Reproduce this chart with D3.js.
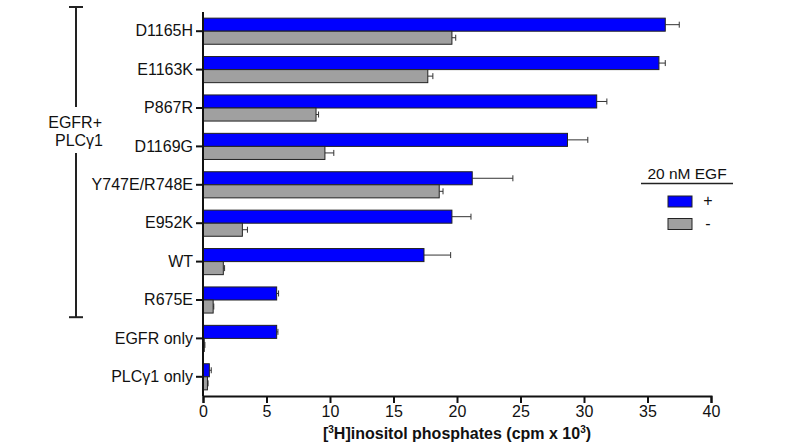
<!DOCTYPE html>
<html>
<head>
<meta charset="utf-8">
<script src="https://cdn.jsdelivr.net/npm/d3@7"></script>
<style>
  body { margin: 0; background: #fff; }
  svg text { font-family: "Liberation Sans", Arial, sans-serif; fill: #111; }
</style>
</head>
<body>
<svg id="chart" width="786" height="443"></svg>
<script>
// data
const categories = ['D1165H', 'E1163K', 'P867R', 'D1169G', 'Y747E/R748E', 'E952K', 'WT', 'R675E', 'EGFR only', 'PLC\u03b31 only'];
const plusEGF = [36.4, 35.9, 31.0, 28.7, 21.2, 19.6, 17.4, 5.8, 5.8, 0.5];
const plusErr = [1.1, 0.5, 0.8, 1.6, 3.2, 1.5, 2.1, 0.15, 0.1, 0.15];
const minusEGF = [19.6, 17.7, 8.9, 9.6, 18.6, 3.1, 1.6, 0.8, 0.1, 0.35];
const minusErr = [0.3, 0.4, 0.2, 0.7, 0.3, 0.4, 0.1, 0.05, 0.05, 0.05];
const xTicks = [0, 5, 10, 15, 20, 25, 30, 35, 40];
const bracketGroup = ['D1165H', 'R675E'];

const svg = d3.select('#chart');
const margin = { top: 12, left: 203, right: 75, bottom: 47 };
const width = 786, height = 443;
const fs = 16;

const x = d3.scaleLinear().domain([0, 40]).range([margin.left, width - margin.right]);
const y = d3.scaleBand().domain(categories).range([margin.top, height - margin.bottom]);
const barH = y.bandwidth() * 0.34;

const series = [
  { key: '+', vals: plusEGF, errs: plusErr, color: '#0000ff', off: y.bandwidth() / 2 - barH },
  { key: '-', vals: minusEGF, errs: minusErr, color: '#a0a0a0', off: y.bandwidth() / 2 }
];

// bars + error bars (upper side only)
series.forEach((s) => {
  const g = svg.append('g');
  categories.forEach((c, i) => {
    const y0 = y(c) + s.off;
    const xe = x(s.vals[i] + s.errs[i]);
    g.append('line')
      .attr('x1', x(s.vals[i])).attr('x2', xe)
      .attr('y1', y0 + barH / 2).attr('y2', y0 + barH / 2)
      .attr('stroke', '#333').attr('stroke-width', 1);
    g.append('line')
      .attr('x1', xe).attr('x2', xe)
      .attr('y1', y0 + barH / 2 - 3).attr('y2', y0 + barH / 2 + 3)
      .attr('stroke', '#333').attr('stroke-width', 1);
    g.append('rect')
      .attr('x', x(0))
      .attr('y', y0)
      .attr('width', Math.max(x(s.vals[i]) - x(0), 1))
      .attr('height', barH)
      .attr('fill', s.color)
      .attr('stroke', '#222')
      .attr('stroke-width', 1);
  });
});

// axes
const xAxis = svg.append('g')
  .attr('transform', `translate(0,${height - margin.bottom})`)
  .call(d3.axisBottom(x).tickValues(xTicks).tickSize(7).tickPadding(3));
xAxis.select('.domain').attr('stroke', '#111').attr('stroke-width', 2);
xAxis.selectAll('.tick line').attr('stroke', '#111').attr('stroke-width', 2);
xAxis.selectAll('text').attr('font-size', fs).style('font-family', '"Liberation Sans", Arial, sans-serif');

const yAxis = svg.append('g')
  .attr('transform', `translate(${margin.left},0)`)
  .call(d3.axisLeft(y).tickSize(7).tickPadding(3));
yAxis.select('.domain').attr('stroke', '#111').attr('stroke-width', 2)
  .attr('d', `M0,${margin.top}V${height - margin.bottom}`);
yAxis.selectAll('.tick line').attr('stroke', '#111').attr('stroke-width', 2);
yAxis.selectAll('text').attr('font-size', fs).style('font-family', '"Liberation Sans", Arial, sans-serif');

// x axis title
const title = svg.append('text')
  .attr('x', (x(0) + x(40)) / 2)
  .attr('y', 439)
  .attr('text-anchor', 'middle')
  .attr('font-size', fs)
  .attr('font-weight', 'bold');
title.append('tspan').text('[');
title.append('tspan').attr('dy', -6).attr('font-size', 10).text('3');
title.append('tspan').attr('dy', 6).text('H]inositol phosphates (cpm x 10');
title.append('tspan').attr('dy', -6).attr('font-size', 10).text('3');
title.append('tspan').attr('dy', 6).text(')');

// bracket for EGFR+PLCγ1 group
const bx = 76;
const bTop = y(bracketGroup[0]) - 5;
const bBot = y(bracketGroup[1]) + y.step() - 2;
const br = svg.append('g').attr('stroke', '#222').attr('stroke-width', 2);
br.append('line').attr('x1', bx).attr('x2', bx).attr('y1', bTop).attr('y2', 107);
br.append('line').attr('x1', bx).attr('x2', bx).attr('y1', 153).attr('y2', bBot);
br.append('line').attr('x1', bx - 7).attr('x2', bx + 7).attr('y1', bTop).attr('y2', bTop);
br.append('line').attr('x1', bx - 7).attr('x2', bx + 7).attr('y1', bBot).attr('y2', bBot);
svg.append('text').attr('x', 102).attr('y', 128).attr('text-anchor', 'end').attr('font-size', fs).text('EGFR+');
svg.append('text').attr('x', 103).attr('y', 146).attr('text-anchor', 'end').attr('font-size', fs).text('PLC\u03b31');

// legend
const lg = svg.append('g').attr('transform', 'translate(641,0)');
lg.append('text').attr('x', 46).attr('y', 179).attr('text-anchor', 'middle').attr('font-size', 15.5).text('20 nM EGF');
lg.append('line').attr('x1', 0).attr('x2', 92).attr('y1', 183.5).attr('y2', 183.5).attr('stroke', '#222').attr('stroke-width', 1.5);
series.forEach((s, i) => {
  const yy = 196 + i * 22.5;
  lg.append('rect').attr('x', 27).attr('y', yy).attr('width', 24).attr('height', 11)
    .attr('fill', s.color).attr('stroke', '#222').attr('stroke-width', 1);
  lg.append('text').attr('x', 67).attr('y', yy + 10).attr('text-anchor', 'middle').attr('font-size', fs).text(s.key);
});
</script>
</body>
</html>
